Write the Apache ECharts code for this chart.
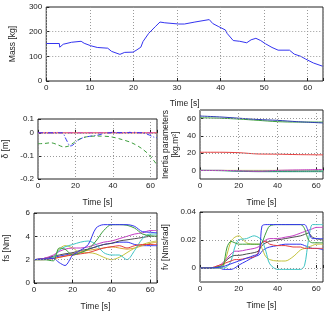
<!DOCTYPE html>
<html>
<head>
<meta charset="utf-8">
<script src="https://cdn.jsdelivr.net/npm/echarts@6/dist/echarts.min.js"></script>
<style>
  html, body { margin: 0; padding: 0; background: #fff; }
  #chart { width: 326px; height: 315px; }
</style>
</head>
<body>
<div id="chart"></div>
<script>
// mass estimate
const massTime = [0, 3, 3.1, 3.9, 5.8, 8, 8.7, 10.2, 11.7, 14.1, 15, 16.9, 18, 19.9, 20.6, 21.7, 22.2, 23.5, 25, 26.1, 27.2, 30.4, 31.7, 34.1, 37.4, 38.2, 39.6, 41.1, 41.5, 42.9, 44.4, 46, 47, 48.1, 49.2, 50.3, 51.8, 53.2, 55.8, 56.9, 58.4, 59.5, 61.3, 63.4];
const massKg = [152, 152, 137, 149, 157, 161, 153, 143, 136, 133, 120, 108, 116, 117, 124, 137, 160, 193, 220, 239, 236, 231, 231, 239, 249, 233, 220, 207, 193, 164, 161, 155, 167, 173, 164, 151, 136, 125, 125, 109, 100, 89, 73, 60];

// delta [m]
const deltaRedT = [0, 63.5];
const deltaRed = [0, 0];
const deltaMagT = [0, 9, 10.3, 11.5, 38.5, 39.6, 41, 42, 47.8, 49, 50.2, 51, 51.7, 52.6, 63.5];
const deltaMag = [0, 0, 0.003, 0, 0, 0.003, 0.002, 0, 0, 0.003, 0, 0.002, 0.003, 0, 0];
const deltaBlueT = [0, 13, 14.5, 15.5, 17.2, 18.6, 20.7, 24, 28.4, 31.9, 35, 40, 50, 56, 59.5, 62, 63.5];
const deltaBlue = [0, 0, -0.02, -0.036, -0.057, -0.053, -0.036, -0.021, -0.014, -0.01, -0.003, 0.001, 0.001, 0, -0.01, -0.019, -0.021];
const deltaGreenT = [0, 3.5, 6.9, 10, 13.8, 16.4, 19, 21.6, 25.9, 31.9, 38.8, 44.8, 50, 55.2, 59.5, 63.5];
const deltaGreen = [-0.047, -0.046, -0.043, -0.05, -0.061, -0.057, -0.043, -0.029, -0.017, -0.014, -0.017, -0.029, -0.043, -0.067, -0.097, -0.139];

// inertia parameters [kg.m^2]
const inertiaT = [0, 10, 20, 30, 40, 50, 63.5];
const inertiaBlue = [63, 62, 60.5, 59, 58, 56.5, 55];
const inertiaGreen = [61, 60.5, 59.5, 58, 56.5, 56, 56];
const inertiaRed = [21, 21, 20.5, 19, 18.8, 18.3, 18];
const inertiaYellow = [0, 0, 0, 0, 0, 0, 0];
const inertiaCyan = [0, 0, -0.8, -1, -1, -0.8, -0.5];
const inertiaTeal = [0, -0.3, -1, -1.5, -1.5, -1.5, -1.5];
const inertiaMag = [0, 0, -0.5, -1, 0, 0.5, 1];

// fs [Nm]
const fsT = [0, 5, 10, 13, 16, 20, 24, 28, 32, 36, 40, 44, 48, 52, 56, 60, 63.5];
const fsBlue = [2, 2.05, 2.1, 1.75, 1.5, 2.4, 2.8, 3.3, 4.7, 5, 5, 5, 5, 4.85, 4.4, 4.35, 4.3];
const fsGreen = [2, 2, 1.9, 3.0, 2.9, 2.4, 2.6, 2.9, 3.6, 4.5, 5, 5, 4.95, 4.7, 4.2, 4.05, 4.0];
const fsRed = [2, 2, 2.1, 2.2, 2.3, 2.4, 2.5, 2.6, 2.8, 3.0, 3.1, 3.2, 3.0, 3.2, 3.3, 3.3, 3.3];
const fsCyan = [2, 2, 2.2, 2.8, 3.1, 3.3, 3.5, 3.6, 3.3, 2.6, 2.4, 2.4, 2.0, 2.8, 3.8, 4.2, 4.2];
const fsMag = [2, 2.1, 2.4, 2.7, 2.9, 3.0, 3.0, 3.1, 3.3, 3.5, 3.6, 3.8, 4.0, 4.2, 4.3, 4.5, 4.5];
const fsYellow = [2, 2, 2.2, 2.9, 3.2, 3.0, 2.6, 2.6, 2.5, 2.2, 2.0, 2.2, 2.6, 3.0, 3.3, 3.5, 3.6];
const fsGray = [2, 2.1, 2.3, 2.4, 2.5, 2.6, 2.8, 2.9, 3.1, 3.3, 3.4, 3.6, 3.7, 3.8, 3.9, 4.0, 4.0];
const fsBlue2 = [2, 2.1, 2.2, 2.3, 2.4, 2.5, 2.6, 2.9, 3.1, 3.3, 3.4, 3.5, 3.5, 3.3, 3.2, 3.2, 3.2];
const fsOrange = [2, 2.05, 2.1, 2.2, 2.3, 2.5, 2.7, 2.8, 2.9, 3.0, 3.1, 3.0, 2.9, 3.0, 3.2, 3.4, 3.5];

// fv [Nms/rad]
const fvT = [0, 5, 10, 12, 14, 16, 18, 20, 24, 28, 30, 31, 32, 34, 36, 40, 44, 48, 52, 54, 56, 58, 60, 63.5];
const fvBlue = [0, 0, 0.0005, 0.001, 0.002, 0.003, 0.004, 0.005, 0.007, 0.009, 0.010, 0.015, 0.030, 0.031, 0.031, 0.031, 0.031, 0.031, 0.031, 0.031, 0.026, 0.021, 0.021, 0.021];
const fvGreen = [0, 0, 0.001, 0.002, 0.015, 0.019, 0.018, 0.017, 0.017, 0.017, 0.017, 0.017, 0.018, 0.025, 0.030, 0.031, 0.031, 0.031, 0.031, 0.028, 0.020, 0.018, 0.018, 0.018];
const fvRed = [0, 0, 0.002, 0.003, 0.004, 0.005, 0.006, 0.006, 0.007, 0.008, 0.011, 0.015, 0.018, 0.019, 0.017, 0.016, 0.016, 0.015, 0.015, 0.014, 0.014, 0.014, 0.014, 0.014];
const fvCyan = [0, 0, 0, 0, 0.001, 0.005, 0.015, 0.020, 0.021, 0.023, 0.022, 0.021, 0.020, 0.012, 0.003, -0.001, -0.001, -0.001, -0.001, 0.002, 0.020, 0.031, 0.031, 0.031];
const fvMag = [0, 0, 0.002, 0.004, 0.007, 0.010, 0.012, 0.012, 0.013, 0.014, 0.015, 0.016, 0.018, 0.020, 0.021, 0.021, 0.022, 0.023, 0.025, 0.026, 0.027, 0.028, 0.029, 0.029];
const fvYellow = [0, 0, 0, 0.001, 0.010, 0.019, 0.022, 0.023, 0.018, 0.017, 0.017, 0.017, 0.014, 0.008, 0.006, 0.005, 0.005, 0.008, 0.013, 0.014, 0.015, 0.016, 0.017, 0.017];
const fvGray = [0, 0, 0.001, 0.003, 0.006, 0.008, 0.009, 0.009, 0.010, 0.011, 0.012, 0.014, 0.016, 0.018, 0.019, 0.020, 0.021, 0.022, 0.023, 0.024, 0.025, 0.022, 0.021, 0.020];
const fvBlue2 = [0, 0, 0, -0.001, -0.001, -0.001, 0, 0.002, 0.005, 0.008, 0.009, 0.010, 0.012, 0.014, 0.015, 0.016, 0.017, 0.017, 0.017, 0.016, 0.015, 0.014, 0.014, 0.013];

const C = {
  blue: "#3434f0",
  green: "#3c9e3c",
  red: "#e43c3c",
  cyan: "#3cc4c4",
  magenta: "#c43cc4",
  yellow: "#c4c43c",
  gray: "#4c4c4c",
  orange: "#e0a030",
};

const FONT = "'Liberation Sans', Arial, sans-serif";
const TXT = "#222";

function zip(t, v) {
  return t.map((x, i) => [x, v[i]]);
}

const grids = [
  { left: 37, top: 7, width: 286, height: 74 },
  { left: 34, top: 119, width: 123, height: 60 },
  { left: 200, top: 110, width: 123, height: 69 },
  { left: 34, top: 213, width: 123, height: 70 },
  { left: 200, top: 212, width: 123, height: 70 },
].map((g) => ({ ...g, show: true, borderColor: "#222", borderWidth: 1, backgroundColor: "#fff" }));

const gridLine = { show: true, lineStyle: { color: "#9a9a9a", width: 1, type: [1, 2] } };

function xAx(idx, step) {
  return {
    type: "value",
    gridIndex: idx,
    min: 0,
    max: 63.5,
    interval: step,
    name: "Time [s]",
    nameLocation: "middle",
    nameGap: idx === 0 ? 18 : 19,
    nameTextStyle: { fontFamily: FONT, fontSize: 8.5, color: TXT },
    axisLine: { show: false },
    axisTick: { show: true, inside: true, length: 3, lineStyle: { color: "#222" } },
    axisLabel: {
      fontFamily: FONT, fontSize: 8, color: TXT, margin: 3,
      formatter: (v) => (Math.abs(v % step) < 1e-9 ? String(v) : ""),
    },
    splitLine: gridLine,
  };
}

function yAx(idx, opts) {
  return {
    type: "value",
    gridIndex: idx,
    min: opts.min,
    max: opts.max,
    name: opts.name,
    nameLocation: "middle",
    nameRotate: 90,
    nameGap: opts.gap,
    nameTextStyle: { fontFamily: FONT, fontSize: 8.5, color: TXT, lineHeight: 10 },
    axisLine: { show: false },
    axisTick: { show: true, inside: true, length: 3, lineStyle: { color: "#222" }, customValues: opts.ticks },
    axisLabel: {
      fontFamily: FONT, fontSize: 8, color: TXT, margin: 4,
      customValues: opts.ticks,
      formatter: opts.fmt || ((v) => String(v)),
    },
    splitLine: { show: false },
  };
}

function line(xi, t, v, color, extra) {
  return Object.assign({
    type: "line",
    xAxisIndex: xi,
    yAxisIndex: xi,
    data: zip(t, v),
    showSymbol: false,
    symbol: "none",
    smooth: xi === 0 ? false : 0.3,
    lineStyle: { color: color, width: 1 },
    itemStyle: { color: color },
    animation: false,
    silent: true,
    z: 3,
  }, extra || {});
}

// dotted grid lines drawn where the ticks are
function gridMarks(xi, values) {
  return {
    type: "line",
    xAxisIndex: xi,
    yAxisIndex: xi,
    data: [],
    silent: true,
    animation: false,
    z: 1,
    markLine: {
      silent: true,
      symbol: "none",
      label: { show: false },
      lineStyle: { color: "#9a9a9a", width: 1, type: [1, 2] },
      data: values.map((y) => ({ yAxis: y })),
      animation: false,
    },
  };
}

const yMass = [0, 100, 200, 300];
const yDelta = [-0.2, -0.1, 0, 0.06];
const yInertia = [0, 20, 40, 60];
const yFs = [0, 2, 4, 6];
const yFv = [0, 0.02, 0.04];

const option = {
  animation: false,
  backgroundColor: "#fff",
  grid: grids,
  xAxis: [xAx(0, 10), xAx(1, 20), xAx(2, 20), xAx(3, 20), xAx(4, 20)],
  yAxis: [
    yAx(0, { min: 0, max: 300, name: "Mass [kg]", gap: 26, ticks: yMass }),
    yAx(1, { min: -0.2, max: 0.06, name: "δ [m]", gap: 27, ticks: yDelta,
      fmt: (v) => (v > 0.05 ? "0.1" : String(Math.round(v * 10) / 10)) }),
    yAx(2, { min: -10, max: 70, name: "Inertia parameters\n[kg.m²]", gap: 19, ticks: yInertia }),
    yAx(3, { min: 0, max: 6, name: "fs [Nm]", gap: 22, ticks: yFs }),
    yAx(4, { min: -0.01, max: 0.04, name: "fv [Nms/rad]", gap: 29, ticks: yFv,
      fmt: (v) => (v === 0 ? "0" : v.toFixed(2)) }),
  ],
  series: [
    gridMarks(0, yMass.slice(1, 3)),
    gridMarks(1, [-0.1, 0]),
    gridMarks(2, [0, 20, 40, 60]),
    gridMarks(3, [2, 4]),
    gridMarks(4, [0, 0.02]),

    line(0, massTime, massKg, C.blue),

    line(1, deltaRedT, deltaRed, C.red, { smooth: false }),
    line(1, deltaMagT, deltaMag, C.magenta, { lineStyle: { color: C.magenta, width: 1, type: [5, 2, 1, 2] } }),
    line(1, deltaBlueT, deltaBlue, C.blue, { lineStyle: { color: C.blue, width: 1, type: [5, 2, 1, 2] } }),
    line(1, deltaGreenT, deltaGreen, C.green, { lineStyle: { color: C.green, width: 1, type: [4, 3] } }),

    line(2, inertiaT, inertiaYellow, C.yellow),
    line(2, inertiaT, inertiaCyan, C.cyan),
    line(2, inertiaT, inertiaTeal, "#2a8a6a"),
    line(2, inertiaT, inertiaMag, C.magenta),
    line(2, inertiaT, inertiaRed, C.red),
    line(2, inertiaT, inertiaGreen, C.green),
    line(2, inertiaT, inertiaBlue, "#2c3cb0"),

    line(3, fsT, fsBlue2, C.blue),
    line(3, fsT, fsOrange, C.orange),
    line(3, fsT, fsGray, C.gray),
    line(3, fsT, fsYellow, C.yellow),
    line(3, fsT, fsMag, C.magenta),
    line(3, fsT, fsCyan, C.cyan),
    line(3, fsT, fsRed, C.red),
    line(3, fsT, fsGreen, C.green),
    line(3, fsT, fsBlue, C.blue),

    line(4, fvT, fvBlue2, C.blue),
    line(4, fvT, fvGray, C.gray),
    line(4, fvT, fvYellow, C.yellow),
    line(4, fvT, fvMag, C.magenta),
    line(4, fvT, fvCyan, C.cyan),
    line(4, fvT, fvRed, C.red),
    line(4, fvT, fvGreen, C.green),
    line(4, fvT, fvBlue, C.blue),
  ],
};

const chart = echarts.init(document.getElementById("chart"), null, { renderer: "canvas" });
chart.setOption(option);
</script>
</body>
</html>
